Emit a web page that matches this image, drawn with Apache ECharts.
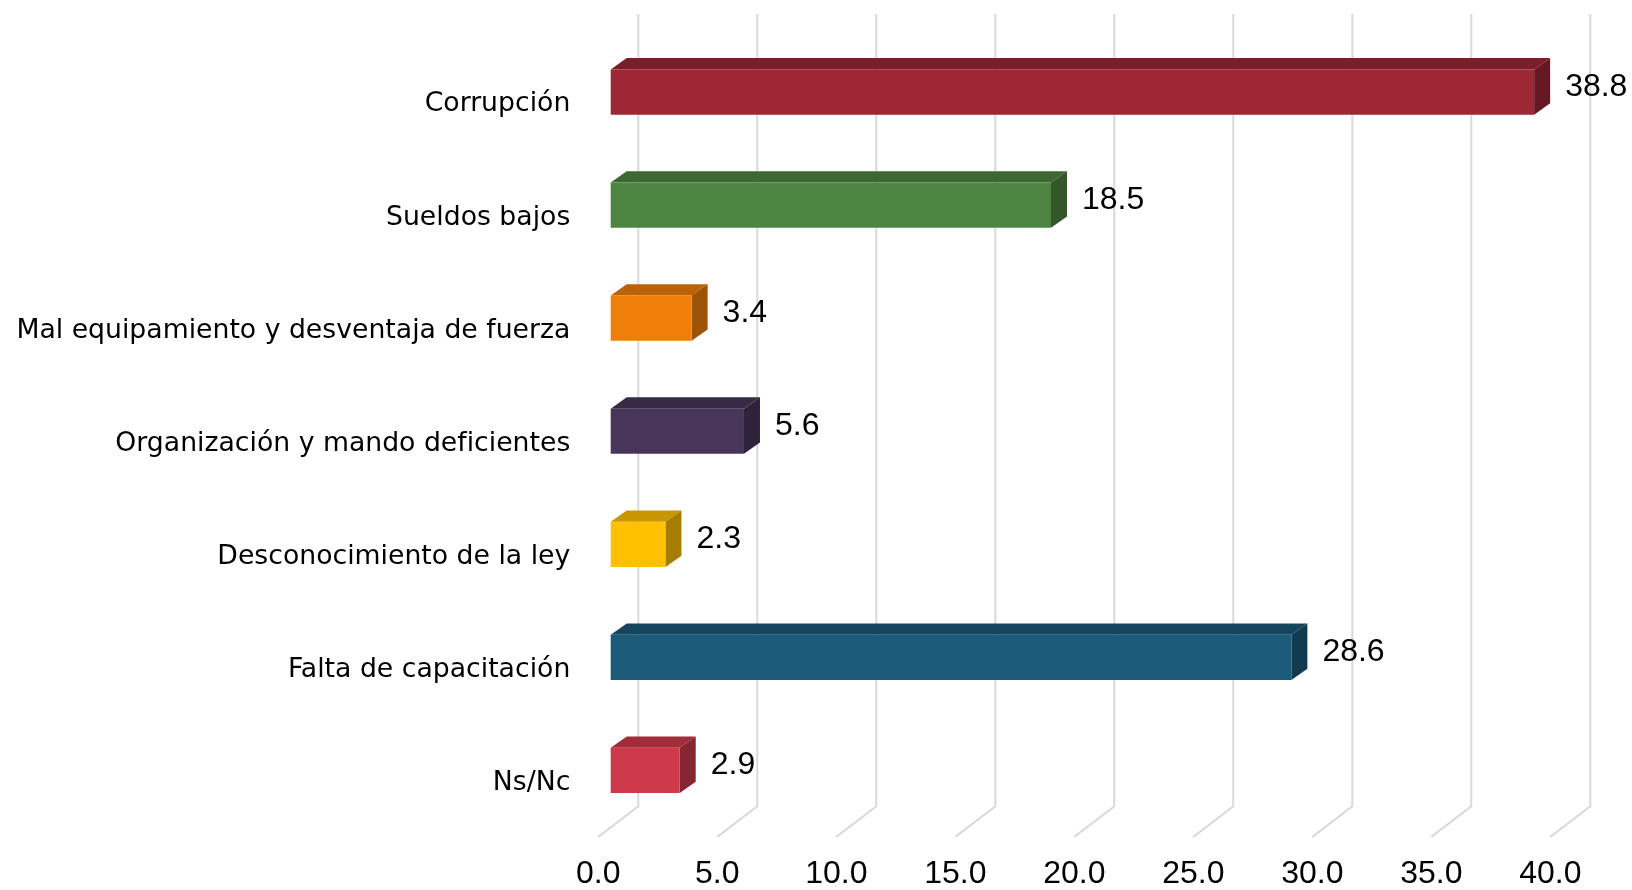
<!DOCTYPE html>
<html lang="es" style="height: 100%">

<head>
  <meta charset="utf-8">
</head>

<body style="height: 100%; margin: 0; background: #fff">
  <div id="container" style="height: 100%"></div>

  <script type="text/javascript" src="https://fastly.jsdelivr.net/npm/echarts@6.0.0/dist/echarts.min.js"></script>

  <script type="text/javascript">
    var categories = [
      'Corrupción',
      'Sueldos bajos',
      'Mal equipamiento y desventaja de fuerza',
      'Organización y mando deficientes',
      'Desconocimiento de la ley',
      'Falta de capacitación',
      'Ns/Nc'
    ];
    var values = [38.8, 18.5, 3.4, 5.6, 2.3, 28.6, 2.9];
    var ticks = [0, 5, 10, 15, 20, 25, 30, 35, 40];
    var colors = ['#9e2736', '#4e8542', '#f07f09', '#473659', '#ffc000', '#1c5a7a', '#cf3a4a'];

    // pseudo 3d offsets (px)
    var WALL_DX = 40, WALL_DY = 30.6;   // floor depth: back wall -> front edge
    var BAR_DX = 12.4;                  // bar front face vs front floor edge
    var DEPTH_X = 16, DEPTH_Y = 11.3;   // bar depth

    function shade(hex, k) {
      var n = parseInt(hex.slice(1), 16);
      var r = Math.round(((n >> 16) & 255) * k);
      var g = Math.round(((n >> 8) & 255) * k);
      var b = Math.round((n & 255) * k);
      return 'rgb(' + r + ',' + g + ',' + b + ')';
    }

    var dom = document.getElementById('container');
    var myChart = echarts.init(dom, null, { renderer: 'canvas' });

    var option = {
      animation: false,
      grid: { left: 598.3, right: 81.7, top: 35.5, bottom: 62.6, containLabel: false },
      xAxis: {
        type: 'value',
        min: 0,
        max: 40,
        interval: 5,
        axisLine: { show: false },
        axisTick: { show: false },
        splitLine: { show: false },
        axisLabel: {
          margin: 31,
          color: '#000',
          fontSize: 32,
          fontFamily: 'Liberation Sans, Arial, sans-serif',
          formatter: function (v) { return v.toFixed(1); }
        }
      },
      yAxis: {
        type: 'category',
        inverse: true,
        data: categories,
        axisLine: { show: false },
        axisTick: { show: false },
        splitLine: { show: false },
        axisLabel: {
          margin: 28,
          color: '#000',
          fontSize: 26.7,
          fontFamily: 'DejaVu Sans, sans-serif',
          verticalAlign: 'top',
          lineHeight: 25
        }
      },
      series: [
        {
          type: 'custom',
          name: 'grid',
          silent: true,
          z: 1,
          data: ticks,
          renderItem: function (params, api) {
            var cs = params.coordSys;
            var x = api.coord([api.value(0), 0])[0];
            var wallTop = cs.y - 21.5;
            var wallBottom = cs.y + cs.height - 20.7;
            return {
              type: 'polyline',
              shape: {
                points: [
                  [x + WALL_DX, wallTop],
                  [x + WALL_DX, wallBottom],
                  [x, wallBottom + WALL_DY]
                ]
              },
              style: { stroke: '#d9d9d9', lineWidth: 2, fill: null }
            };
          }
        },
        {
          type: 'custom',
          name: 'bars',
          z: 2,
          data: values.map(function (v, i) { return [v, i]; }),
          renderItem: function (params, api) {
            var idx = api.value(1);
            var val = api.value(0);
            var p0 = api.coord([0, idx]);
            var p1 = api.coord([val, idx]);
            var band = api.size([0, 1])[1];
            var h = band * 0.4;
            var x0 = p0[0] + BAR_DX;
            var x1 = p1[0] + BAR_DX;
            var y0 = p0[1] - h / 2;
            var y1 = y0 + h;
            var c = colors[idx];
            return {
              type: 'group',
              children: [
                {
                  type: 'polygon',
                  shape: { points: [[x0, y0], [x1, y0], [x1 + DEPTH_X, y0 - DEPTH_Y], [x0 + DEPTH_X, y0 - DEPTH_Y]] },
                  style: { fill: shade(c, 0.78) }
                },
                {
                  type: 'polygon',
                  shape: { points: [[x1, y0], [x1 + DEPTH_X, y0 - DEPTH_Y], [x1 + DEPTH_X, y1 - DEPTH_Y], [x1, y1]] },
                  style: { fill: shade(c, 0.65) }
                },
                {
                  type: 'rect',
                  shape: { x: x0, y: y0, width: x1 - x0, height: h },
                  style: { fill: c }
                },
                {
                  type: 'text',
                  x: x1 + DEPTH_X + 15,
                  y: p0[1] - 5,
                  style: {
                    text: val.toFixed(1),
                    fill: '#000',
                    font: '32px "Liberation Sans", Arial, sans-serif',
                    verticalAlign: 'middle',
                    align: 'left'
                  }
                }
              ]
            };
          }
        }
      ]
    };

    myChart.setOption(option);
    window.addEventListener('resize', myChart.resize);
  </script>
</body>

</html>
